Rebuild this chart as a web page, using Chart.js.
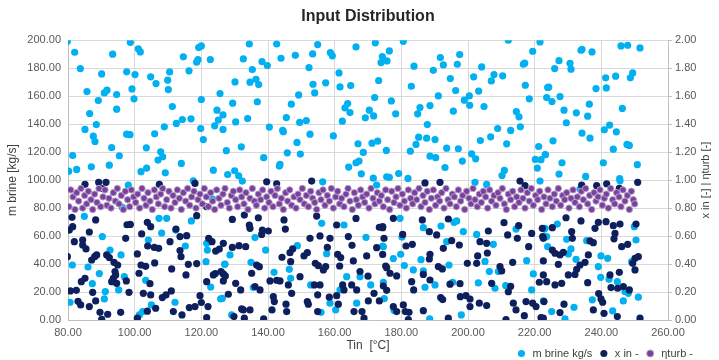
<!DOCTYPE html>
<html>
<head>
<meta charset="utf-8">
<script src="https://cdn.jsdelivr.net/npm/chart.js@4.4.1/dist/chart.umd.min.js"></script>
<style>
  html, body { margin: 0; padding: 0; background: #fff; }
  #wrap { width: 719px; height: 360px; }
</style>
</head>
<body>
<div id="wrap"><canvas id="chart"></canvas></div>
<script>
// series labels
const seriesNames = ["m brine kg/s", "x in -", "\u03b7turb -"];

// m brine [kg/s] vs Tin [°C]  (left axis)
const brinePoints = [
  [79.8,199.2],[82,191.4],[83.7,179.7],[90.1,175.9],[93.4,190],[98.7,198.5],[101.1,193.8],[101.7,191.6],[97.6,177.4],[100.1,175.4],
  [85.7,163.3],[89.1,156.9],[90.9,162.3],[91.7,164.3],[94.6,161.2],[99.2,165.2],[99.8,158.1],[94.6,150.7],[86.5,147.6],[85.1,136.2],
  [88.5,139.7],[87.6,131.4],[88.1,127.6],[97.6,132.8],[98.6,132.5],[93.1,123.3],[95.4,117.4],[81.4,117.6],[80.2,106.4],[82.6,107.6],
  [87,109.5],[92.4,110.7],[101.9,106],[103.6,108.6],[103.5,123.1],[106,133.1],[104.8,173.8],[106.4,169],[109.9,171.4],[110.5,177.3],
  [110.1,164.7],[111.3,152.6],[108.9,138.1],[112.5,140.5],[114.3,143.3],[116.9,143.8],[107.8,120.2],[108.4,116.7],[107,114.3],[109.2,105.2],
  [114,111.9],[114.6,188.1],[116.3,178.1],[118.6,184.3],[119,186.2],[119.2,194.7],[120,195.9],[122.7,186.2],[120,157.6],[119.8,136.9],
  [120.6,129],[125.6,161.9],[124.7,150],[126.5,146.6],[125.1,142.9],[124,138.8],[126.5,136.2],[127.5,121],[123.6,107.1],[127.9,104],
  [134.4,197.3],[132.6,186.6],[138.2,184.7],[139.8,181.9],[135.3,179],[130.1,170.2],[134.6,170],[136.4,172.1],[137.2,168.3],[129.4,155],
  [136.8,156],[130.3,141.6],[133.9,144],[132,123.8],[138.7,116],[130,106.7],[131.2,103.1],[142.6,197.3],[143.9,187.1],[148.2,189.2],
  [152.3,180.4],[153.4,190.2],[154.9,196.9],[158.7,191.2],[159.3,188.8],[153.5,168.5],[154,162.3],[157.3,169.5],[149.2,160.9],[147,154.3],
  [145.5,144.7],[149.5,141.2],[151.5,142.6],[140.4,137.9],[144.4,135.5],[144.6,134.6],[152.6,132.8],[159.6,131.6],[148.7,126.9],[145.8,119.5],
  [149.7,118.6],[143.6,111.2],[143.4,110],[161.3,176.6],[161.6,166.6],[164.8,167.6],[166.4,195.2],[172.2,198.1],[174.3,188.3],[173.9,184],
  [175.7,185.2],[173.2,171.2],[172,159],[163.9,154.7],[163.1,151.6],[164.6,148.3],[170.4,150],[171.7,145.9],[169.2,144.5],[162.3,142.1],
  [167,126],[171.2,126.4],[172.9,127.8],[175.5,121.2],[168.6,119.8],[164.2,109.3],[166.4,112.4],[167.3,113.6],[168,104.5],[171.6,101.4],
  [175.6,102.4],[180.6,199.2],[176.4,192.3],[183.8,181.4],[191.7,187.6],[192.6,182.3],[197.5,189.7],[196.8,182.8],[189.6,178.5],[183,167.1],
  [194.7,172.6],[196.3,164],[191.1,160.2],[198.9,157.1],[200.4,160.2],[200.5,153.5],[195.6,149.3],[188.6,153.3],[185.6,151.9],[184.9,147.4],
  [177,156.6],[178.3,147.4],[187.8,139.7],[185.2,130.7],[187.6,130],[190.1,129],[184.4,125.5],[182.7,120.7],[193.6,122.8],[197.1,122.4],
  [188.6,117.1],[190.3,116],[193.1,109],[198.3,113.6],[201.1,118.8],[202.3,115.2],[176.4,101.9],[179.2,104.7],[182,101.2],[204.1,180.9],
  [201.7,173.8],[203.2,163.6],[207,170.9],[207.8,175.4],[210.4,174.5],[212.1,200],[221.6,198.8],[219.4,192.1],[216.6,182.8],[217,183.6],
  [217.2,167.8],[218.4,158.1],[223.9,166.2],[223.6,159],[204.8,152.6],[214.5,149],[215.3,145.2],[215.7,138.1],[212.8,135.5],[208.9,136.9],
  [206.8,130.9],[203.7,128.3],[211.6,125.9],[221.2,124],[220.2,114.8],[221.9,114.6],[223.2,118.1],[220.8,108.6],[210.9,106.9],[210.2,103.3],
  [234.2,193.5],[233.9,192.8],[237.2,191.6],[245.9,195.9],[247.9,196.4],[251.6,194.5],[227.3,185.4],[230.6,183.5],[230.9,179.3],[226,179.7],
  [224.2,166.4],[238.4,165.4],[241.3,173.1],[241.5,165.9],[244.3,174.3],[249.4,176.6],[248.7,173.1],[225.2,156.2],[227.6,159.7],[228.8,150],
  [232.5,148.1],[235.9,145.7],[236.4,154.3],[246.3,151.2],[229.5,141],[234.2,133.6],[236.6,130],[240.9,136],[242.5,139.3],[244.5,134.5],
  [225.5,128.1],[247.7,125.5],[248.4,124.8],[243.6,122.1],[223.2,118.3],[228.2,112.4],[240.6,112.4],[250.8,111],[227.3,104.3],[235.3,102.6],
  [245.5,101],
  [98.1,96.5],[117.6,99.5],[84.9,74.1],[90.3,59.6],[92.6,50],[95.9,46.5],[81.3,39.3],[86,37.9],[89.4,33.2],[87.3,26],
  [96.9,31],[91.2,20.3],[95.2,21.5],[80.6,12.7],[90.9,15.1],[96.3,80.5],[101.4,3.6],[103.3,28.4],[104.1,57.2],[107.3,72.7],
  [109.6,72.7],[108.1,62.2],[112.3,64.3],[117,70.8],[115.2,52.9],[112.1,12.7],[105,10.8],[102.4,6],[121.6,54.8],[121.8,50],
  [121.4,41.7],[127.1,40],[122.8,23.6],[125.8,15.1],[123.4,86.5],[132.3,99.3],[156.4,98.8],[136.1,58.9],[139.3,50],[128.6,46.5],
  [127,39.8],[134.9,41.2],[141.8,34.1],[146.4,36.2],[146.8,29.8],[157.6,47.4],[148.8,53.1],[156.1,69.1],[162.8,67.9],[169.4,59.1],
  [174.6,52.4],[163.6,31],[152.8,25.1],[135.6,23.2],[126.3,15.5],[161.6,21.5],[158.6,12],[155.9,5.5],[160.3,7.2],[129.1,3.6],
  [167.6,31],[174.6,27],[166.6,12],[170.8,25.1],[172.6,96.5],[202.1,98.4],[205.6,96.9],[221.6,99.3],[179.6,72.7],[186.6,66],
  [191.9,67.2],[195.8,69.8],[196.6,70.8],[202.6,61.2],[198.6,63.1],[174.4,52.9],[180.2,59.3],[179.8,47],[177.6,43.9],[180.9,38.9],
  [183.6,35.8],[185.9,43.1],[186.6,35.2],[194.3,39.3],[193.6,56],[207.6,54.1],[205.1,41.9],[209.1,34.6],[206.4,34.6],[203.1,26.5],
  [208.1,22.7],[211.3,24.6],[219.6,32.9],[217.6,42.4],[214.4,65],[222.9,65],[223.9,52.4],[174.9,15.3],[190.1,25.1],[187.1,23.4],
  [195.4,27],[177.8,7],[188.5,0.8],[198,3.6],[219.1,21.5],[222.6,13.6],[245.6,99.5],[233.6,93.6],[223.1,65.5],[223.6,59.6],
  [226.8,68.6],[229.6,57.7],[230.9,50.8],[230.1,47.2],[232.4,43.4],[235.6,56.7],[239.9,45.8],[241.9,44.1],[239.1,38.2],[239.8,30.5],
  [244.8,27.4],[242.3,29.1],[250.4,57.2],[249.9,66.7],[249.1,41.7],[248.1,19.1],[246.6,13.6],[251.1,16.3],[237.3,14.4],[231.8,9.1],
  [225.1,6],[229.1,0.8],[243.4,6.5],[247.1,20.4]
];

// x in [-] vs Tin [°C]  (right axis)
const xInPoints = [
  [80.4,0.643],[81.4,0.667],[81.2,0.734],[79.8,0.453],[81.9,0.56],[84.4,0.572],[84.4,0.536],[86.4,0.629],[88.3,0.715],[89.2,0.984],
  [91.4,0.984],[90.1,0.94],[85.1,0.97],[85.4,0.508],[88,0.453],[87.1,0.429],[88.6,0.465],[91.6,0.465],[92.4,0.446],[93.8,0.412],
  [94.9,0.393],[94.1,0.346],[93.6,0.298],[94.3,0.322],[85.1,0.298],[84,0.274],[80.7,0.208],[82.5,0.212],[87.4,0.198],[83,0.134],
  [83.8,0.108],[86.4,0.096],[89.6,0.055],[90.1,0.005],[91.9,0.041],[95.8,0.055],[88.3,0.136],[93.1,0.274],[94.6,0.262],[97.5,0.279],
  [98.3,0.198],[97.7,0.681],[98.7,0.683],[97.3,0.584],[100.8,0.472],[101.9,0.393],[103.3,0.384],[101.3,0.334],[104.6,0.26],[102.6,0.191],
  [104.8,0.179],[103.8,0.063],[100.8,0.013],[106.3,0.084],[102.1,0.615],[103.8,0.698],[104.8,0.667],[103.9,0.529],[105.9,0.519],[107.2,0.512],
  [106,0.408],[110.6,0.56],[112.4,0.65],[113.6,0.596],[115.6,0.603],[113.6,0.496],[113.9,0.453],[116.1,0.398],[118.6,0.403],[111.1,0.365],
  [115.4,0.322],[109.4,0.179],[111,0.208],[108.3,0.16],[111.6,0.06],[114.2,0.036],[116.4,0.089],[118.1,0.096],[120,0.125],[122,0.096],
  [121.6,0.017],[119.6,0.174],[121.6,0.274],[123.6,0.322],[126.6,0.329],[124.2,0.332],[126.6,0.279],[122.2,0.584],[123.2,0.56],[124.3,0.493],
  [125.4,0.507],[128.1,0.184],[118.6,0.746],[118.1,0.976],[107.4,0.97],[121.6,0.81],
  [139.6,0.988],[142.6,0.974],[153.1,0.993],[129.3,0.719],[134.4,0.679],[134.6,0.655],[132.9,0.75],[137.1,0.731],[138.3,0.643],[138.1,0.612],
  [140.1,0.636],[144.8,0.715],[145.2,0.65],[126.6,0.548],[129.3,0.519],[131.3,0.531],[133.3,0.524],[125.9,0.346],[127.2,0.315],[130.3,0.262],
  [131.8,0.215],[136.6,0.393],[137.4,0.381],[135.1,0.334],[136.1,0.239],[137.6,0.215],[140.6,0.279],[142.6,0.284],[143.6,0.279],[141.6,0.167],
  [141.9,0.132],[144.2,0.448],[146.6,0.481],[147.4,0.508],[150.8,0.458],[151.8,0.481],[146.8,0.417],[149.6,0.31],[146.1,0.251],[147.1,0.191],
  [151.8,0.132],[152.1,0.113],[145.4,0.113],[145.6,0.06],[141.2,0.072],[138.7,0.008],[134.6,0.072],[132.6,0.072],[132.1,0.079],[132.9,0.013],
  [129.8,0.025],[152.6,0.584],[155.6,0.601],[154.6,0.743],[158.6,0.584],[160.6,0.679],[157.8,0.519],[154.2,0.405],[155.1,0.388],[157.3,0.382],
  [156.6,0.358],[153.9,0.251],[155.6,0.251],[154.9,0.18],[160.6,0.174],[158.4,0.163],[162.4,0.251],[162.8,0.215],[161.1,0.113],[154.9,0.06],
  [165.1,0.251],[166.6,0.215],[164.1,0.596],[165.2,0.534],[160.9,0.469],[161.8,0.446],[161.5,0.386],[165.6,0.422],[169.6,0.458],[167.6,0.346],
  [170,0.313],[171.8,0.191],[173.4,0.136],[170.1,0.136],[168.2,0.06],[168.8,0.013],[173.4,0.663],[174.4,0.668],[172.6,0.517],[174.4,0.469],
  [175.3,0.386],[175.6,0.212],[165.8,0.06],[166.4,0.726],
  [174.4,0.66],[177.6,0.727],[174.8,0.584],[180.4,0.612],[181.4,0.529],[183.3,0.541],[186.3,0.715],[188.4,0.631],[190.6,0.608],[194.1,0.722],
  [195.1,0.567],[197.4,0.536],[192.6,0.512],[188.6,0.47],[188.4,0.436],[191.1,0.382],[192.3,0.365],[199.8,0.405],[202.9,0.458],[205.8,0.479],
  [202.6,0.405],[175.6,0.374],[176.6,0.334],[178.6,0.315],[174.6,0.243],[183.1,0.274],[183.7,0.215],[186.6,0.326],[188.6,0.286],[194.6,0.256],
  [197.6,0.26],[191.8,0.16],[192.4,0.146],[197.7,0.167],[199.4,0.174],[200.6,0.15],[203.4,0.12],[205.6,0.103],[177.6,0.096],[180.6,0.108],
  [181.2,0.06],[182.3,0.055],[178.6,0.06],[182.1,0.003],[186.6,0.067],[194.1,0.013],[200.6,0.096],[203.6,0.56],[205.6,0.548],[206.1,0.636],
  [210.8,0.696],[211.9,0.608],[215.2,0.674],[214.8,0.584],[218.2,0.524],[219.1,0.619],[222.6,0.584],[213.4,0.412],[209.6,0.382],[210.1,0.351],
  [207.1,0.262],[212.8,0.241],[212.1,0.202],[213.6,0.12],[214.4,0.072],[211.4,0.003],[217.4,0.132],[219.4,0.12],[220.4,0.096],[216.9,0.031],
  [221.9,0.017],[221.4,0.27],[222.6,0.322],[217.1,0.96],[215.6,0.993],[187.1,0.98],[191.6,0.984],
  [250.9,0.984],[241.6,0.974],[245.4,0.941],[238.6,0.96],[234.1,0.965],[222.3,0.655],[225.3,0.66],[222.4,0.596],[229.4,0.731],[231.1,0.631],
  [231.3,0.584],[233.9,0.708],[238.1,0.655],[239.1,0.698],[241.4,0.703],[243.6,0.674],[245.6,0.686],[244.1,0.619],[243.8,0.58],[246.1,0.524],
  [247.9,0.541],[236.6,0.565],[237.6,0.553],[236.1,0.465],[233.6,0.393],[235.1,0.412],[232.6,0.362],[225.3,0.5],[226.1,0.477],[227.6,0.465],
  [228.6,0.484],[222.6,0.422],[227.1,0.398],[230.1,0.322],[232.1,0.326],[223.6,0.274],[226.1,0.251],[228.1,0.262],[235.9,0.267],[242.6,0.322],
  [245.4,0.341],[242.9,0.232],[244.9,0.227],[246.6,0.239],[248.4,0.215],[250.1,0.441],[251.1,0.453],[249.4,0.405],[250.1,0.358],[250.4,0.686],
  [239.2,0.189],[239.9,0.151],[240.4,0.127],[237.6,0.072],[240.8,0.048],[244.8,0.025],[251.6,0.013],[228.8,0.113],[227.6,0.053],[222.6,0.013],
  [222.8,0.132]
];

// eta turb [-] vs Tin [°C]  (right axis)
const etaPoints = [
  [80.3,0.81],[80.8,0.93],[81.5,0.88],[82.1,0.79],[82.6,0.91],[83.2,0.85],[83.9,0.94],[84.4,0.80],[85.0,0.89],[85.6,0.83],
  [86.1,0.92],[86.9,0.86],[87.4,0.79],[88.0,0.90],[88.7,0.84],[89.3,0.94],[89.8,0.81],[90.5,0.88],[91.1,0.93],[91.7,0.82],
  [92.3,0.87],[92.9,0.80],[93.6,0.91],[94.2,0.85],[94.8,0.94],[95.3,0.83],[96.0,0.89],[96.6,0.79],[97.2,0.92],[97.9,0.86],
  [98.5,0.81],[99.0,0.93],[99.7,0.88],[100.3,0.84],[100.9,0.90],[101.5,0.80],[102.2,0.94],[102.8,0.87],[103.4,0.82],[104.0,0.91],
  [104.6,0.85],[105.3,0.79],[105.9,0.93],[106.5,0.88],[107.1,0.83],[107.8,0.90],[108.4,0.94],[109.0,0.81],[109.6,0.86],[110.3,0.92],
  [110.9,0.80],[111.5,0.89],[112.1,0.84],[112.8,0.93],[113.4,0.87],[114.0,0.79],[114.6,0.91],[115.3,0.85],[115.9,0.94],[116.5,0.82],
  [117.1,0.88],[117.8,0.92],[118.4,0.80],[119.0,0.86],[119.6,0.90],[120.3,0.83],[120.9,0.94],[121.5,0.88],[122.1,0.81],[122.8,0.91],
  [123.4,0.85],[124.0,0.79],[124.6,0.93],[125.3,0.87],[125.9,0.82],[126.5,0.90],[127.1,0.94],[127.8,0.84],[128.4,0.80],[129.0,0.89],
  [129.6,0.92],[130.3,0.86],[130.9,0.81],[131.5,0.93],[132.1,0.88],[132.8,0.83],[133.4,0.91],[134.0,0.79],[134.6,0.87],[135.3,0.94],
  [135.9,0.85],[136.5,0.82],[137.1,0.90],[137.8,0.86],[138.4,0.93],[139.0,0.80],[139.6,0.88],[140.3,0.84],[140.9,0.92],[141.5,0.81],
  [142.1,0.89],[142.8,0.94],[143.4,0.83],[144.0,0.87],[144.6,0.79],[145.3,0.91],[145.9,0.85],[146.5,0.93],[147.1,0.82],[147.8,0.88],
  [148.4,0.80],[149.0,0.90],[149.6,0.86],[150.3,0.94],[150.9,0.83],[151.5,0.89],[152.1,0.81],[152.8,0.92],[153.4,0.87],[154.0,0.84],
  [154.6,0.79],[155.3,0.91],[155.9,0.86],[156.5,0.93],[157.1,0.82],[157.8,0.89],[158.4,0.85],[159.0,0.94],[159.6,0.80],[160.3,0.88],
  [160.9,0.92],[161.5,0.83],[162.1,0.87],[162.8,0.81],[163.4,0.90],[164.0,0.94],[164.6,0.85],[165.3,0.79],[165.9,0.91],[166.5,0.86],
  [167.1,0.82],[167.8,0.93],[168.4,0.88],[169.0,0.84],[169.6,0.90],[170.3,0.80],[170.9,0.94],[171.5,0.87],[172.1,0.83],[172.8,0.91],
  [173.4,0.85],[174.0,0.89],[174.6,0.81],[175.3,0.93],[175.9,0.86],[176.5,0.79],[177.1,0.92],[177.8,0.84],[178.4,0.88],[179.0,0.94],
  [179.6,0.82],[180.3,0.90],[180.9,0.85],[181.5,0.80],[182.1,0.93],[182.8,0.87],[183.4,0.83],[184.0,0.91],[184.6,0.86],[185.3,0.94],
  [185.9,0.81],[186.5,0.89],[187.1,0.84],[187.8,0.92],[188.4,0.79],[189.0,0.87],[189.6,0.93],[190.3,0.82],[190.9,0.88],[191.5,0.85],
  [192.1,0.91],[192.8,0.80],[193.4,0.94],[194.0,0.86],[194.6,0.83],[195.3,0.90],[195.9,0.88],[196.5,0.81],[197.1,0.93],[197.8,0.85],
  [198.4,0.89],[199.0,0.79],[199.6,0.92],[200.3,0.87],[200.9,0.83],[201.5,0.94],[202.1,0.86],[202.8,0.81],[203.4,0.90],[204.0,0.84],
  [204.6,0.92],[205.3,0.88],[205.9,0.80],[206.5,0.93],[207.1,0.85],[207.8,0.89],[208.4,0.82],[209.0,0.91],[209.6,0.87],[210.3,0.94],
  [210.9,0.83],[211.5,0.79],[212.1,0.90],[212.8,0.86],[213.4,0.92],[214.0,0.81],[214.6,0.88],[215.3,0.84],[215.9,0.93],[216.5,0.87],
  [217.1,0.80],[217.8,0.91],[218.4,0.85],[219.0,0.94],[219.6,0.82],[220.3,0.89],[220.9,0.86],[221.5,0.92],[222.1,0.79],[222.8,0.88],
  [223.4,0.83],[224.0,0.93],[224.6,0.87],[225.3,0.81],[225.9,0.90],[226.5,0.85],[227.1,0.94],[227.8,0.82],[228.4,0.89],[229.0,0.86],
  [229.6,0.91],[230.3,0.80],[230.9,0.87],[231.5,0.93],[232.1,0.84],[232.8,0.88],[233.4,0.81],[234.0,0.92],[234.6,0.86],[235.3,0.94],
  [235.9,0.83],[236.5,0.89],[237.1,0.79],[237.8,0.91],[238.4,0.85],[239.0,0.88],[239.6,0.93],[240.3,0.82],[240.9,0.87],[241.5,0.90],
  [242.1,0.80],[242.8,0.94],[243.4,0.86],[244.0,0.83],[244.6,0.91],[245.3,0.88],[245.9,0.81],[246.5,0.93],[247.1,0.85],[247.8,0.89],
  [248.4,0.79],[249.0,0.92],[249.6,0.86],[250.0,0.83]
];

const toXY = (pts) => pts.map((p) => ({ x: p[0], y: p[1] }));

const gridColor = "#d9d9d9";
const axisColor = "#bfbfbf";
const textColor = "#595959";
Chart.defaults.font.family = "'Liberation Sans', Arial, sans-serif";

// axis titles placed where Excel puts them
const titlePlugin = {
  id: "axisTitles",
  afterDraw(chart) {
    const c = chart.ctx;
    const area = chart.chartArea;
    const midY = (area.top + area.bottom) / 2;
    c.save();
    c.fillStyle = "#404040";
    c.textAlign = "center";
    c.textBaseline = "middle";
    c.font = "12px 'Liberation Sans', Arial, sans-serif";
    c.fillText("Tin  [\u00b0C]", (area.left + area.right) / 2, 346);

    c.save();
    c.translate(13, midY);
    c.rotate(-Math.PI / 2);
    c.fillText("m brine [kg/s]", 0, 0);
    c.restore();

    c.font = "11px 'Liberation Sans', Arial, sans-serif";
    c.translate(706, midY);
    c.rotate(-Math.PI / 2);
    c.fillText("x in [-] | \u03b7turb [-]", 0, 0);
    c.restore();
  },
};

const data = {
  datasets: [
    {
      label: seriesNames[0],
      data: toXY(brinePoints),
      yAxisID: "y",
      backgroundColor: "#00b0f0",
      borderColor: "#00b0f0",
      borderWidth: 0,
      pointRadius: 3.6,
      order: 3,
    },
    {
      label: seriesNames[1],
      data: toXY(xInPoints),
      yAxisID: "y2",
      backgroundColor: "#0d1f5c",
      borderColor: "#0d1f5c",
      borderWidth: 0,
      pointRadius: 3.6,
      order: 2,
    },
    {
      label: seriesNames[2],
      data: toXY(etaPoints),
      yAxisID: "y2",
      backgroundColor: "#7b3f9e",
      borderColor: "#b3a3c6",
      borderWidth: 1,
      pointRadius: 3.2,
      order: 1,
    },
  ],
};

const config = {
  type: "scatter",
  data: data,
  plugins: [titlePlugin],
  options: {
    responsive: false,
    animation: false,
    layout: { padding: { left: 0, right: 20, top: 0, bottom: -9 } },
    plugins: {
      title: {
        display: true,
        fullSize: false,
        text: "Input Distribution",
        color: "#262626",
        font: { size: 16, weight: "bold" },
        padding: { top: 7, bottom: 14 },
      },
      legend: {
        position: "bottom",
        align: "end",
        labels: {
          usePointStyle: true,
          pointStyle: "circle",
          boxHeight: 5,
          color: "#404040",
          font: { size: 11 },
          padding: 6,
          sort: (a, b) => a.datasetIndex - b.datasetIndex,
        },
      },
      tooltip: { enabled: false },
    },
    scales: {
      x: {
        type: "linear",
        min: 80,
        max: 260,
        ticks: {
          stepSize: 20,
          color: textColor,
          font: { size: 11 },
          padding: 6,
          callback: (v) => v.toFixed(2),
        },
        grid: { color: gridColor, drawTicks: false },
        border: { color: axisColor },
        afterFit: (scale) => {
          scale.height = 49 - scale.chart.legend.height;
        },
      },
      y: {
        position: "left",
        min: 0,
        max: 200,
        ticks: {
          stepSize: 20,
          color: textColor,
          font: { size: 11 },
          padding: 7,
          callback: (v) => v.toFixed(2),
        },
        grid: { color: gridColor, drawTicks: false },
        border: { color: axisColor },
        afterFit: (scale) => {
          scale.width = 68;
        },
      },
      y2: {
        position: "right",
        min: 0,
        max: 2,
        ticks: {
          stepSize: 0.2,
          color: textColor,
          font: { size: 11 },
          padding: 3,
          callback: (v) => v.toFixed(2),
        },
        grid: { drawOnChartArea: false, color: axisColor, tickLength: 4 },
        border: { color: axisColor },
        afterFit: (scale) => {
          scale.width = 31;
        },
      },
    },
  },
};

const canvas = document.getElementById("chart");
canvas.width = 719;
canvas.height = 360;
const chart = new Chart(canvas.getContext("2d"), config);
</script>
</body>
</html>
